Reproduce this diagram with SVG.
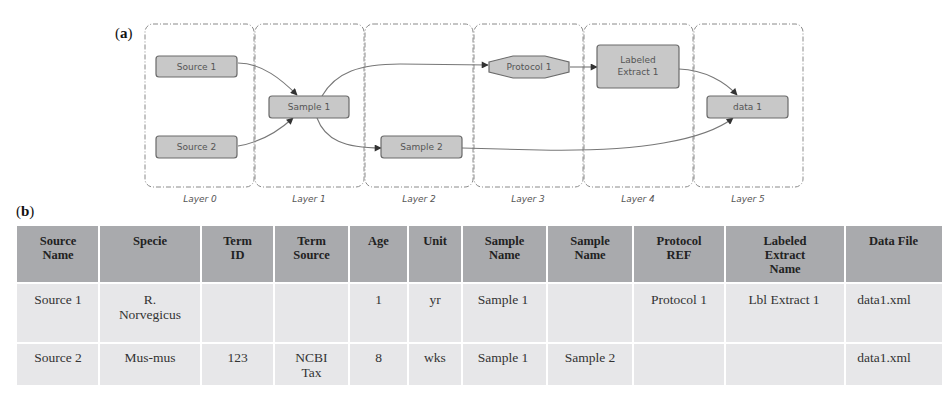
<svg xmlns="http://www.w3.org/2000/svg" width="951" height="400" viewBox="0 0 951 400">
<defs>
<style>
.layer{fill:none;stroke:#8a8a8a;stroke-width:1;stroke-dasharray:5,2,1,2}
.lt{font-family:"DejaVu Sans",sans-serif;font-style:italic;font-size:9px;fill:#555;text-anchor:middle}
.node{fill:#c8c8c8;stroke:#6a6a6a;stroke-width:1.2}
.nt{font-family:"DejaVu Sans",sans-serif;font-size:9px;fill:#555;text-anchor:middle}
.edge{fill:none;stroke:#777;stroke-width:1.1;marker-end:url(#ah)}
.hd{fill:#a9aaad}
.bd{fill:#e7e7e9}
.ht{font-family:"Liberation Serif",serif;font-weight:bold;font-size:12.5px;fill:#222;text-anchor:middle}
.bt{font-family:"Liberation Serif",serif;font-size:13.5px;fill:#333;text-anchor:middle}
.lab{font-family:"Liberation Serif",serif;font-size:15px;fill:#111}
</style>
<marker id="ah" viewBox="0 0 10 10" refX="9" refY="5" markerWidth="9" markerHeight="7" markerUnits="userSpaceOnUse" orient="auto">
<path d="M0,0 L10,5 L0,10 z" fill="#333"/>
</marker>
</defs>
<rect width="951" height="400" fill="#fff"/>

<text class="lab" x="115" y="38">(<tspan font-weight="bold">a</tspan>)</text>

<g id="layers">
<rect class="layer" x="145" y="24" width="109" height="163" rx="8"/>
<rect class="layer" x="255" y="24" width="109" height="163" rx="8"/>
<rect class="layer" x="365" y="24" width="108" height="163" rx="8"/>
<rect class="layer" x="474" y="24" width="109" height="163" rx="8"/>
<rect class="layer" x="584" y="24" width="109" height="163" rx="8"/>
<rect class="layer" x="694" y="24" width="109" height="163" rx="8"/>
<text class="lt" x="200" y="202">Layer 0</text>
<text class="lt" x="309" y="202">Layer 1</text>
<text class="lt" x="419" y="202">Layer 2</text>
<text class="lt" x="528" y="202">Layer 3</text>
<text class="lt" x="638" y="202">Layer 4</text>
<text class="lt" x="748" y="202">Layer 5</text>
</g>

<g id="connectors">
<path class="edge" d="M238,63 C262,63 282,80 297,95"/>
<path class="edge" d="M238,146 C262,142 280,130 293,118"/>
<path class="edge" d="M322,96 C336,72 360,64 400,64 L488,65"/>
<path class="edge" d="M317,118 C325,140 345,148 381,148"/>
<path class="edge" d="M570,67 L597,67"/>
<path class="edge" d="M679,69 C705,70 725,82 737,95"/>
<path class="edge" d="M462,148 L540,150 C640,152 705,140 733,118"/>
</g>

<g id="source1"><rect class="node" x="156" y="56" width="81" height="21" rx="3"/><text class="nt" x="196.5" y="70">Source 1</text></g>
<g id="source2"><rect class="node" x="156" y="136" width="81" height="22" rx="3"/><text class="nt" x="196.5" y="150">Source 2</text></g>
<g id="sample1"><rect class="node" x="269" y="96" width="80" height="22" rx="3"/><text class="nt" x="309" y="110">Sample 1</text></g>
<g id="sample2"><rect class="node" x="381" y="136" width="81" height="22" rx="3"/><text class="nt" x="421.5" y="150">Sample 2</text></g>
<g id="protocol1"><polygon class="node" points="489,62 513,56 545,56 569,62 569,72 545,78 513,78 489,72"/><text class="nt" x="529" y="70">Protocol 1</text></g>
<g id="labeledExtract1"><rect class="node" x="597" y="45" width="82" height="43" rx="3"/><text class="nt" x="638" y="63">Labeled</text><text class="nt" x="638" y="75">Extract 1</text></g>
<g id="data1"><rect class="node" x="707" y="96" width="81" height="22" rx="3"/><text class="nt" x="747.5" y="110">data 1</text></g>

<text class="lab" x="16" y="216">(<tspan font-weight="bold">b</tspan>)</text>

<g id="table">
<rect class="hd" x="17" y="226" width="925" height="57"/>
<rect class="bd" x="17" y="283" width="925" height="102"/>
<g stroke="#fff" stroke-width="2">
<line x1="17" y1="283" x2="942" y2="283"/>
<line x1="17" y1="343" x2="942" y2="343"/>
<line x1="99" y1="226" x2="99" y2="385"/>
<line x1="201" y1="226" x2="201" y2="385"/>
<line x1="274" y1="226" x2="274" y2="385"/>
<line x1="349" y1="226" x2="349" y2="385"/>
<line x1="408" y1="226" x2="408" y2="385"/>
<line x1="462" y1="226" x2="462" y2="385"/>
<line x1="547" y1="226" x2="547" y2="385"/>
<line x1="633" y1="226" x2="633" y2="385"/>
<line x1="725" y1="226" x2="725" y2="385"/>
<line x1="845" y1="226" x2="845" y2="385"/>
</g>
<text class="ht" x="58" y="245">Source</text><text class="ht" x="58" y="259">Name</text>
<text class="ht" x="150" y="245">Specie</text>
<text class="ht" x="237.5" y="245">Term</text><text class="ht" x="237.5" y="259">ID</text>
<text class="ht" x="311.5" y="245">Term</text><text class="ht" x="311.5" y="259">Source</text>
<text class="ht" x="378.5" y="245">Age</text>
<text class="ht" x="435" y="245">Unit</text>
<text class="ht" x="504.5" y="245">Sample</text><text class="ht" x="504.5" y="259">Name</text>
<text class="ht" x="590" y="245">Sample</text><text class="ht" x="590" y="259">Name</text>
<text class="ht" x="679" y="245">Protocol</text><text class="ht" x="679" y="259">REF</text>
<text class="ht" x="785" y="245">Labeled</text><text class="ht" x="785" y="259">Extract</text><text class="ht" x="785" y="273">Name</text>
<text class="ht" x="893.5" y="245">Data File</text>

<text class="bt" x="58" y="304">Source 1</text>
<text class="bt" x="150" y="304">R.</text><text class="bt" x="150" y="319">Norvegicus</text>
<text class="bt" x="378.5" y="304">1</text>
<text class="bt" x="435" y="304">yr</text>
<text class="bt" x="503" y="304">Sample 1</text>
<text class="bt" x="679" y="304">Protocol 1</text>
<text class="bt" x="784" y="304">Lbl Extract 1</text>
<text class="bt" x="884" y="304">data1.xml</text>

<text class="bt" x="58" y="362">Source 2</text>
<text class="bt" x="150" y="362">Mus-mus</text>
<text class="bt" x="237.5" y="362">123</text>
<text class="bt" x="311.5" y="362">NCBI</text><text class="bt" x="311.5" y="377">Tax</text>
<text class="bt" x="378.5" y="362">8</text>
<text class="bt" x="435" y="362">wks</text>
<text class="bt" x="503" y="362">Sample 1</text>
<text class="bt" x="590" y="362">Sample 2</text>
<text class="bt" x="884" y="362">data1.xml</text>
</g>
</svg>
